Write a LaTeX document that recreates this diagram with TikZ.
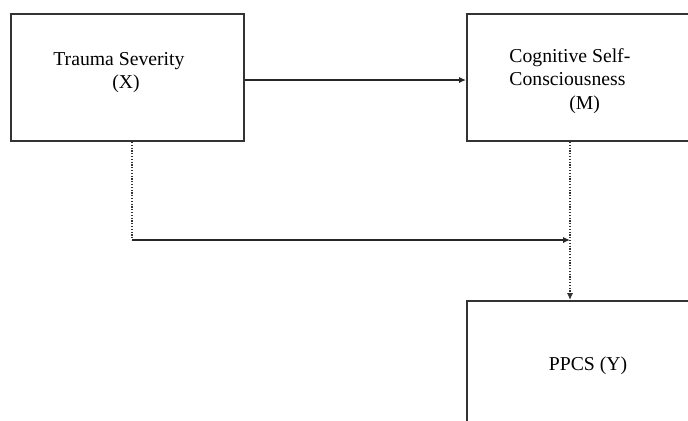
\documentclass[tikz,border=0pt]{standalone}
\usepackage{fontspec}
\setmainfont{Liberation Serif}
\usetikzlibrary{arrows.meta, positioning}

\begin{document}
\begin{tikzpicture}[
        x=0.5pt, y=-0.5pt,
        box/.style={rectangle, draw=black!80, line width=1pt, minimum height=63.5pt, inner sep=0pt},
        lbl/.style={inner sep=0pt, align=left, font=\fontsize{9.85}{11.75}\selectfont},
        link/.style={-{Latex[length=3.5pt, width=3.2pt]}, line width=0.8pt, black!85},
        dots/.style={dash pattern=on 0.6pt off 0.8pt, line width=0.7pt, black!80}
    ]
        \useasboundingbox (0,0) rectangle (688,420);
        \clip (0,0) rectangle (688,420);

        \node[box, minimum width=116.5pt] (sev) at (127.5,77.5) {};
        \node[box, minimum width=127.5pt, right=110.5pt of sev] (csc) {};
        \node[box, minimum width=127.5pt, minimum height=70pt, below=79pt of csc] (ppcs) {};

        \node[lbl, anchor=north west] (sevtxt) at ([shift={(43,39)}]sev.north west) {Trauma Severity\\\hspace*{29.5pt}(X)};
        \node[lbl, anchor=north west] (csctxt) at ([shift={(43,35)}]csc.north west) {Cognitive Self-\\Consciousness\\\hspace*{30pt}(M)};
        \node[lbl] (ppcstxt) at ([shift={(122,66)}]ppcs.north west) {PPCS (Y)};

        \coordinate (bend) at (132,240);
        \coordinate (drop) at (570,240);

        \draw[link] ([yshift=-1.25pt]sev.east) -- ([yshift=-1.25pt]csc.west);
        \draw[dots] (sev.south -| bend) -- (bend);
        \draw[link] (bend) -- (drop);
        \draw[dots, -{Latex[length=3.5pt, width=3.2pt]}] (csc.south -| drop) -- (ppcs.north -| drop);
    \end{tikzpicture}
\end{document}
